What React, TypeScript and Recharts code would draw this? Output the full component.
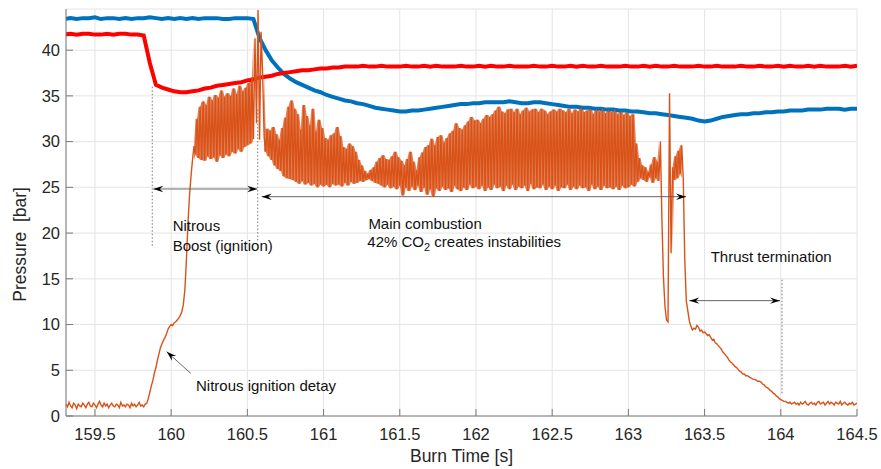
import {
  ComposedChart,
  Line,
  Area,
  XAxis,
  YAxis,
  CartesianGrid,
  ReferenceLine,
  ReferenceDot,
} from 'recharts';

const FONT = '"Liberation Sans", Arial, Helvetica, sans-serif';

const xTicks = [159.5, 160, 160.5, 161, 161.5, 162, 162.5, 163, 163.5, 164, 164.5];
const yTicks = [0, 5, 10, 15, 20, 25, 30, 35, 40];

// combustion chamber pressure [bar], one sample every 10 ms starting at 159.31 s
const chamberT0 = 159.31;
const chamberDt = 0.01;
const chamberP = [
  1.3, 1.0, 1.5, 1.1, 0.9, 1.4, 1.2, 0.8, 1.3, 1.1,
  1.0, 1.4, 1.2, 0.9, 1.3, 1.5, 1.1, 1.0, 1.4, 1.2,
  0.9, 1.3, 1.6, 1.2, 1.0, 1.4, 1.1, 1.3, 0.9, 1.2,
  1.4, 1.1, 1.0, 1.3, 1.2, 0.9, 1.5, 1.1, 1.2, 1.0,
  1.3, 1.2, 0.9, 1.4, 1.1, 1.3, 1.0, 1.2, 1.5, 1.1,
  1.2, 1.0, 1.3, 1.4, 1.9, 2.6, 3.3, 3.9, 4.7, 5.3,
  6.1, 6.8, 7.5, 7.9, 8.3, 8.6, 9.0, 9.5, 9.8, 10.0,
  9.9, 10.2, 10.3, 10.5, 10.7, 11.0, 11.4, 12.2, 13.8, 17.0,
  21.0, 24.0, 26.2, 28.0, 29.5, 28.6, 32.5, 28.2, 33.8, 28.0,
  34.4, 27.9, 34.0, 28.4, 34.9, 28.1, 34.5, 28.3, 35.1, 27.8,
  34.8, 28.5, 35.6, 28.2, 34.9, 28.6, 35.3, 28.4, 35.0, 28.9,
  35.8, 28.7, 35.2, 29.2, 36.1, 28.9, 35.5, 29.4, 35.9, 29.6,
  36.4, 29.8, 37.0, 30.3, 41.3, 32.0, 44.4, 30.2, 42.0, 37.5,
  30.5, 28.9, 31.4, 28.4, 31.2, 28.0, 31.6, 27.4, 30.8, 27.0,
  30.2, 26.8, 31.5, 26.2, 32.6, 26.0, 33.8, 25.9, 34.5, 25.8,
  33.6, 25.6, 33.0, 25.4, 31.3, 25.7, 34.0, 25.3, 32.8, 25.5,
  31.8, 25.2, 33.6, 25.4, 31.1, 25.0, 32.4, 25.3, 31.5, 25.1,
  30.4, 25.3, 30.2, 25.0, 30.7, 25.4, 30.9, 25.2, 31.6, 25.3,
  30.6, 25.1, 29.4, 25.5, 29.2, 25.2, 29.8, 25.6, 29.5, 25.4,
  28.9, 25.5, 28.0, 25.7, 27.4, 25.6, 26.8, 25.8, 26.5, 25.9,
  26.9, 25.7, 27.2, 25.5, 27.8, 25.4, 28.2, 25.2, 28.5, 25.0,
  28.1, 25.3, 28.0, 24.9, 28.4, 25.1, 28.9, 24.8, 28.3, 25.2,
  27.9, 24.1, 27.4, 25.0, 28.1, 24.6, 28.9, 25.1, 27.8, 24.7,
  26.9, 25.2, 28.3, 24.5, 28.8, 25.0, 29.4, 24.2, 29.6, 24.8,
  30.3, 24.0, 29.6, 24.9, 30.5, 24.6, 30.7, 25.1, 29.9, 24.7,
  30.4, 24.9, 30.9, 24.5, 31.2, 25.2, 32.0, 24.8, 31.5, 24.6,
  31.3, 25.0, 31.8, 24.7, 32.2, 25.3, 32.7, 24.9, 32.3, 25.1,
  32.4, 24.8, 32.0, 25.2, 32.5, 24.6, 32.9, 25.0, 32.7, 24.7,
  33.0, 25.3, 33.4, 24.9, 33.8, 25.1, 33.3, 24.6, 33.1, 25.2,
  33.5, 24.8, 33.6, 25.3, 33.2, 24.7, 33.6, 25.1, 33.0, 24.9,
  33.4, 25.2, 33.7, 24.6, 33.3, 25.4, 33.5, 24.8, 33.6, 25.0,
  33.2, 24.9, 33.6, 25.3, 33.4, 24.7, 33.0, 25.1, 33.3, 24.8,
  33.5, 25.2, 33.3, 24.6, 33.6, 25.0, 33.4, 24.9, 33.2, 25.3,
  33.6, 24.7, 33.1, 25.1, 33.5, 24.8, 33.3, 25.2, 33.7, 24.9,
  33.2, 25.0, 33.4, 24.6, 33.6, 25.3, 33.0, 24.8, 33.5, 25.1,
  33.3, 24.7, 33.6, 25.2, 33.1, 24.9, 33.4, 25.0, 33.2, 24.8,
  33.5, 25.1, 33.0, 24.7, 33.3, 25.2, 32.9, 24.9, 33.2, 25.0,
  32.8, 25.3, 33.0, 25.1, 29.8, 25.6, 28.2, 26.0, 27.4, 25.8,
  27.2, 25.6, 26.6, 26.2, 27.5, 25.5, 28.3, 26.0, 27.8, 25.7,
  30.0, 21.5, 15.2, 12.0, 10.5, 10.3, 35.3, 17.8, 27.2, 25.8,
  28.4, 26.0, 29.0, 26.5, 29.6, 26.0, 17.0, 12.6, 11.5, 10.4,
  9.8, 9.4, 9.6, 9.5, 9.9, 9.7, 9.3, 9.4, 9.1, 9.2,
  9.0, 8.8, 8.9, 8.6, 8.3, 8.4, 8.0, 7.9, 7.7, 7.5,
  7.3, 7.0, 6.8, 6.6, 6.4, 6.1, 5.9, 5.8, 5.6, 5.4,
  5.3, 5.1, 4.9, 4.8, 4.6, 4.6, 4.4, 4.4, 4.3, 4.2,
  4.1, 4.0, 4.0, 3.9, 3.8, 3.8, 3.7, 3.5, 3.4, 3.2,
  3.1, 3.0, 2.8, 2.7, 2.5, 2.4, 2.2, 2.1, 1.9, 1.8,
  1.7, 1.6, 1.6, 1.5, 1.4, 1.5, 1.3, 1.4, 1.5, 1.3,
  1.4, 1.2, 1.5, 1.3, 1.4, 1.6, 1.3, 1.2, 1.4, 1.5,
  1.3, 1.4, 1.2, 1.5, 1.6, 1.3, 1.4, 1.5, 1.2, 1.4,
  1.6, 1.3, 1.5, 1.4, 1.2, 1.5, 1.4, 1.3, 1.6, 1.2,
  1.4, 1.5, 1.3, 1.2, 1.4, 1.3, 1.5, 1.2, 1.3, 1.4,
];

// time spans where the chamber pressure oscillates densely (shaded as a band)
const oscillationSpans = [
  [160.15, 160.54],
  [160.61, 163.2],
  [163.29, 163.35],
];

// feed line pressures [bar], one sample every 40 ms starting at 159.30 s
const feedT0 = 159.3;
const feedDt = 0.04;
const tankP = [
  43.4, 43.5, 43.4, 43.5, 43.5, 43.6, 43.4, 43.5, 43.5, 43.4,
  43.5, 43.4, 43.5, 43.5, 43.6, 43.5, 43.4, 43.5, 43.4, 43.5,
  43.4, 43.5, 43.4, 43.5, 43.5, 43.5, 43.4, 43.4, 43.5, 43.5,
  43.5, 43.4, 41.3, 40.0, 38.9, 38.1, 37.4, 36.9, 36.5, 36.2,
  35.9, 35.6, 35.4, 35.1, 34.9, 34.7, 34.5, 34.4, 34.2, 34.1,
  33.9, 33.7, 33.6, 33.5, 33.4, 33.3, 33.3, 33.4, 33.4, 33.5,
  33.6, 33.7, 33.8, 33.9, 34.0, 34.1, 34.1, 34.2, 34.2, 34.3,
  34.3, 34.3, 34.3, 34.4, 34.3, 34.2, 34.2, 34.3, 34.3, 34.2,
  34.1, 34.0, 33.9, 33.8, 33.8, 33.7, 33.7, 33.6, 33.6, 33.5,
  33.5, 33.4, 33.4, 33.3, 33.3, 33.2, 33.1, 33.1, 33.0, 32.9,
  32.8, 32.7, 32.6, 32.5, 32.3, 32.2, 32.3, 32.5, 32.7, 32.8,
  32.9, 33.0, 33.0, 33.1, 33.1, 33.2, 33.2, 33.3, 33.3, 33.4,
  33.4, 33.4, 33.5, 33.5, 33.5, 33.6, 33.6, 33.6, 33.5, 33.6,
  33.6,
];
const manifoldP = [
  41.7, 41.8, 41.7, 41.8, 41.8, 41.7, 41.7, 41.8, 41.7, 41.8,
  41.8, 41.7, 41.7, 41.6, 38.6, 36.2, 35.9, 35.7, 35.5, 35.4,
  35.4, 35.5, 35.6, 35.8, 35.9, 36.1, 36.2, 36.3, 36.4, 36.5,
  36.7, 36.8, 37.0, 37.1, 37.2, 37.4, 37.5, 37.6, 37.7, 37.8,
  37.8, 37.9, 38.0, 38.0, 38.1, 38.1, 38.2, 38.2, 38.2, 38.3,
  38.2, 38.2, 38.3, 38.2, 38.2, 38.2, 38.3, 38.2, 38.2, 38.3,
  38.2, 38.3, 38.2, 38.2, 38.2, 38.3, 38.2, 38.2, 38.3, 38.2,
  38.3, 38.2, 38.2, 38.3, 38.2, 38.2, 38.2, 38.3, 38.2, 38.2,
  38.3, 38.2, 38.2, 38.3, 38.2, 38.3, 38.2, 38.2, 38.3, 38.2,
  38.2, 38.2, 38.3, 38.2, 38.2, 38.3, 38.2, 38.3, 38.2, 38.2,
  38.3, 38.2, 38.2, 38.2, 38.3, 38.2, 38.2, 38.3, 38.2, 38.2,
  38.2, 38.3, 38.2, 38.2, 38.3, 38.2, 38.2, 38.3, 38.2, 38.3,
  38.2, 38.2, 38.3, 38.2, 38.3, 38.2, 38.2, 38.2, 38.3, 38.2,
  38.3,
];

const inSpan = (t: number) => oscillationSpans.some(([a, b]) => t >= a - 1e-6 && t <= b + 1e-6);

const chamberData = chamberP.map((p, i) => {
  const t = +(chamberT0 + i * chamberDt).toFixed(2);
  const near = chamberP.slice(Math.max(0, i - 1), i + 2);
  return { t, p, band: inSpan(t) ? [Math.min(...near), Math.max(...near)] : null };
});
const tankData = tankP.map((p, i) => ({ t: +(feedT0 + i * feedDt).toFixed(2), p }));
const manifoldData = manifoldP.map((p, i) => ({ t: +(feedT0 + i * feedDt).toFixed(2), p }));

const AXIS = '#7a7a7a';
const TICK_TEXT = { fill: '#262626', fontSize: 16.5, fontFamily: FONT };
const ORANGE = '#D95319';

function arrowHead(x: number, y: number, ux: number, uy: number) {
  const len = 10;
  const half = 3.2;
  const bx = x - ux * len;
  const by = y - uy * len;
  const mx = x - ux * len * 0.65;
  const my = y - uy * len * 0.65;
  return `M${x},${y} L${bx - uy * half},${by + ux * half} L${mx},${my} L${bx + uy * half},${by - ux * half} Z`;
}

function Arrow(props: any) {
  const { x1, y1, x2, y2, both } = props;
  const d = Math.hypot(x2 - x1, y2 - y1) || 1;
  const ux = (x2 - x1) / d;
  const uy = (y2 - y1) / d;
  return (
    <g>
      <line x1={x1} y1={y1} x2={x2} y2={y2} stroke="#555" strokeWidth={0.9} />
      <path d={arrowHead(x2, y2, ux, uy)} fill="#000" />
      {both && <path d={arrowHead(x1, y1, -ux, -uy)} fill="#000" />}
    </g>
  );
}

function note(x: number, y: number, content: React.ReactNode, key: string) {
  return (
    <ReferenceDot
      key={key}
      x={x}
      y={y}
      r={0}
      ifOverflow="visible"
      shape={(p: any) => (
        <text x={p.cx} y={p.cy} fontFamily={FONT} fontSize={15} fill="#111">
          {content}
        </text>
      )}
    />
  );
}

export default function App() {
  return (
    <div style={{ position: 'absolute', left: 0, top: 0, width: 881, height: 469, background: '#fff' }}>
      <ComposedChart width={881} height={469} margin={{ top: 9, right: 24, bottom: 0, left: 0 }}>
        <CartesianGrid stroke="#e4e4e4" strokeWidth={1} />
        <XAxis
          dataKey="t"
          type="number"
          domain={[159.31, 164.5]}
          ticks={xTicks}
          allowDataOverflow
          height={53}
          stroke={AXIS}
          tickSize={-7}
          tickMargin={19}
          tick={TICK_TEXT}
          label={{
            content: () => (
              <text x={461.5} y={461.7} textAnchor="middle" fontFamily={FONT} fontSize={17.5} fill="#262626">
                Burn Time [s]
              </text>
            ),
          }}
        />
        <XAxis
          xAxisId="top"
          orientation="top"
          dataKey="t"
          type="number"
          domain={[159.31, 164.5]}
          ticks={xTicks}
          allowDataOverflow
          height={0}
          stroke={AXIS}
          tickSize={-7}
          tickFormatter={() => ''}
        />
        <YAxis
          type="number"
          domain={[0, 44.5]}
          ticks={yTicks}
          allowDataOverflow
          width={66}
          stroke={AXIS}
          tickSize={-7}
          tickMargin={13}
          tick={TICK_TEXT}
          label={{
            content: () => (
              <text
                x={26.5}
                y={244.4}
                transform="rotate(-90, 26.5, 244.4)"
                textAnchor="middle"
                fontFamily={FONT}
                fontSize={17.5}
                fill="#262626"
              >
                {'Pressure\u00A0 [bar]'}
              </text>
            ),
          }}
        />
        <YAxis
          yAxisId="right"
          orientation="right"
          type="number"
          domain={[0, 44.5]}
          ticks={yTicks}
          width={0}
          stroke={AXIS}
          tickSize={-7}
          tickFormatter={() => ''}
        />

        <ReferenceLine segment={[{ x: 159.876, y: 36.0 }, { x: 159.876, y: 18.5 }]} stroke="#555" strokeWidth={0.8} strokeDasharray="1.5 2" />
        <ReferenceLine segment={[{ x: 160.568, y: 33.5 }, { x: 160.568, y: 19.2 }]} stroke="#555" strokeWidth={0.8} strokeDasharray="1.5 2" />
        <ReferenceLine segment={[{ x: 164.008, y: 14.9 }, { x: 164.008, y: 2.3 }]} stroke="#555" strokeWidth={0.8} strokeDasharray="1.5 2" />

        <Line data={tankData} dataKey="p" stroke="#0072BD" strokeWidth={4} dot={false} activeDot={false} isAnimationActive={false} />
        <Line data={manifoldData} dataKey="p" stroke="#FF0000" strokeWidth={4} dot={false} activeDot={false} isAnimationActive={false} />
        <Area
          data={chamberData}
          dataKey="band"
          stroke="none"
          fill={ORANGE}
          fillOpacity={0.75}
          connectNulls={false}
          dot={false}
          activeDot={false}
          isAnimationActive={false}
        />
        <Line data={chamberData} dataKey="p" stroke={ORANGE} strokeWidth={1.4} dot={false} activeDot={false} isAnimationActive={false} />

        <ReferenceLine segment={[{ x: 159.883, y: 24.82 }, { x: 160.565, y: 24.82 }]} shape={(p: any) => <Arrow {...p} both />} />
        <ReferenceLine segment={[{ x: 160.594, y: 23.98 }, { x: 163.378, y: 23.98 }]} shape={(p: any) => <Arrow {...p} both />} />
        <ReferenceLine segment={[{ x: 163.4, y: 12.61 }, { x: 163.995, y: 12.61 }]} shape={(p: any) => <Arrow {...p} both />} />
        <ReferenceLine segment={[{ x: 160.128, y: 4.67 }, { x: 159.971, y: 7.03 }]} shape={(p: any) => <Arrow {...p} />} />

        {note(160.01, 20.26, 'Nitrous', 'n1')}
        {note(160.01, 18.07, 'Boost (ignition)', 'n2')}
        {note(161.294, 20.45, 'Main combustion', 'm1')}
        {note(
          161.287,
          18.45,
          <>
            42% CO
            <tspan dy={4} fontSize={11}>2</tspan>
            <tspan dy={-4}> creates instabilities</tspan>
          </>,
          'm2',
        )}
        {note(163.54, 16.81, 'Thrust termination', 't1')}
        {note(160.163, 2.77, 'Nitrous ignition detay', 'd1')}
      </ComposedChart>
    </div>
  );
}
